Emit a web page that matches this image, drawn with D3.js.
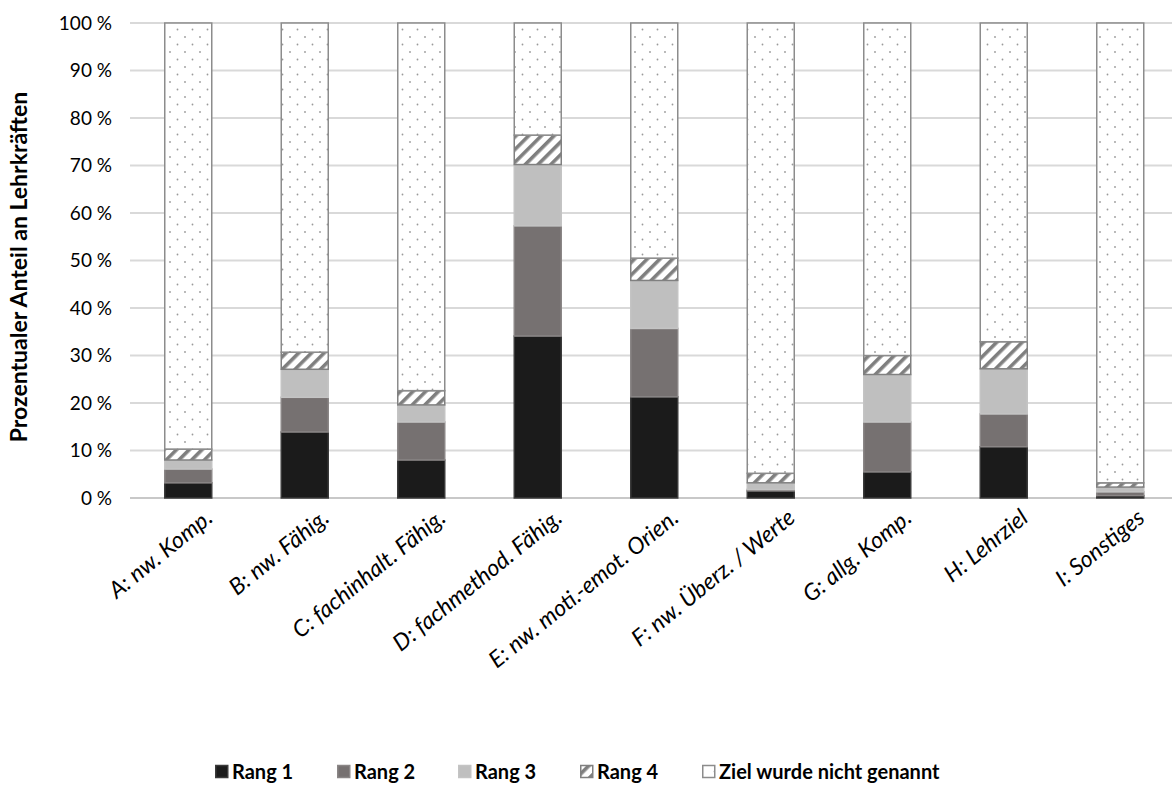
<!DOCTYPE html>
<html><head><meta charset="utf-8">
<script src="https://cdn.jsdelivr.net/npm/d3@7"></script>
<style>
body{margin:0;background:#fff;}
svg{display:block;font-family:Lato, "Open Sans", sans-serif;}
</style></head>
<body><svg id="c" width="1172" height="801"></svg>
<script>
const categories = ["A: nw. Komp.","B: nw. Fähig.","C: fachinhalt. Fähig.","D: fachmethod. Fähig.","E: nw. moti.-emot. Orien.","F: nw. Überz. / Werte","G: allg. Komp.","H: Lehrziel","I: Sonstiges"];
const seriesNames = ["Rang 1","Rang 2","Rang 3","Rang 4","Ziel wurde nicht genannt"];
const rang1 = [3.2, 13.9, 8.0, 34.1, 21.3, 1.5, 5.5, 10.8, 0.5];
const rang2 = [2.9, 7.3, 8.0, 23.2, 14.4, 0.3, 10.5, 6.9, 0.8];
const rang3 = [1.9, 5.9, 3.6, 12.9, 10.1, 1.4, 10.0, 9.5, 1.0];
const rang4 = [2.3, 3.6, 3.0, 6.2, 4.7, 2.0, 4.0, 5.7, 0.9];
const nichtGenannt = categories.map((c,i)=> 100 - rang1[i]-rang2[i]-rang3[i]-rang4[i]);
const yTicks = [0,10,20,30,40,50,60,70,80,90,100];

const svg = d3.select("#c");
const defs = svg.append("defs");
const hatch = defs.append("pattern").attr("id","hatch").attr("patternUnits","userSpaceOnUse")
  .attr("width",9).attr("height",9).attr("patternTransform","rotate(45)");
hatch.append("rect").attr("width",9).attr("height",9).attr("fill","#fff");
hatch.append("rect").attr("x",0).attr("y",0).attr("width",3.6).attr("height",9).attr("fill","#7f7f7f");
const dots = defs.append("pattern").attr("id","dots").attr("patternUnits","userSpaceOnUse")
  .attr("width",15).attr("height",15).attr("x",2).attr("y",4);
dots.append("rect").attr("width",15).attr("height",15).attr("fill","#fff");
dots.append("circle").attr("cx",3).attr("cy",3).attr("r",0.9).attr("fill","#9a9a9a");
dots.append("circle").attr("cx",10.5).attr("cy",10.5).attr("r",0.9).attr("fill","#9a9a9a");

const fills = ["#1b1b1b","#767171","#bfbfbf","url(#hatch)","url(#dots)"];
const strokes = ["#3a3a3a","#8a8686","#c4c4c4","#808080","#8c8c8c"];

const x0 = 130, x1 = 1178.5, yB = 498, yT = 23;
const x = d3.scalePoint().domain(categories).range([x0,x1]).padding(0.5);
const y = d3.scaleLinear().domain([0,100]).range([yB,yT]);
const barW = 47;

// gridlines
svg.append("g").selectAll("line").data(yTicks).join("line")
  .attr("x1",x0).attr("x2",1172).attr("y1",d=>y(d)).attr("y2",d=>y(d))
  .attr("stroke",d=>d===0?"#c8c8c8":"#d9d9d9").attr("stroke-width",2);

// y axis labels
const yAxis = d3.axisLeft(y).tickValues(yTicks).tickFormat(d=>d+" %").tickSize(0).tickPadding(0);
const ya = svg.append("g").attr("transform","translate(112,0)").call(yAxis);
ya.select(".domain").remove();
ya.selectAll("text").attr("font-size",19).attr("fill","#000").attr("font-family","Lato, sans-serif");

// stack
const table = categories.map((c,i)=>({cat:c, s0:rang1[i], s1:rang2[i], s2:rang3[i], s3:rang4[i], s4:nichtGenannt[i]}));
const stack = d3.stack().keys(["s0","s1","s2","s3","s4"])(table);
stack.forEach((layer,k)=>{
  svg.append("g").selectAll("rect").data(layer).join("rect")
    .attr("x",d=>x(d.data.cat)-barW/2)
    .attr("y",d=>y(d[1]))
    .attr("width",barW)
    .attr("height",d=>Math.max(0,y(d[0])-y(d[1])))
    .attr("fill",fills[k]).attr("stroke",strokes[k]).attr("stroke-width",1.5);
});

// x labels
svg.append("g").selectAll("text").data(categories).join("text")
  .attr("transform",d=>`translate(${x(d)+15},${507}) rotate(-39)`)
  .attr("text-anchor","end").attr("dy","0.75em")
  .attr("font-size",23).attr("font-style","italic").attr("fill","#000")
  .text(d=>d);

// y title
svg.append("text").attr("transform","translate(27,267) rotate(-90)")
  .attr("text-anchor","middle").attr("font-size",23).attr("font-weight","bold")
  .text("Prozentualer Anteil an Lehrkräften");

// legend
const legX = [215,337,458,580,702];
const lg = svg.append("g").selectAll("g").data(seriesNames).join("g")
  .attr("transform",(d,i)=>`translate(${legX[i]},772)`);
lg.append("rect").attr("x",0.75).attr("y",-6.5).attr("width",12).attr("height",12)
  .attr("fill",(d,i)=>fills[i]).attr("stroke",(d,i)=>strokes[i]).attr("stroke-width",1.5);
lg.append("text").attr("x",17).attr("dy","0.35em").attr("font-size",20).attr("font-weight","bold").text(d=>d);
</script></body></html>
